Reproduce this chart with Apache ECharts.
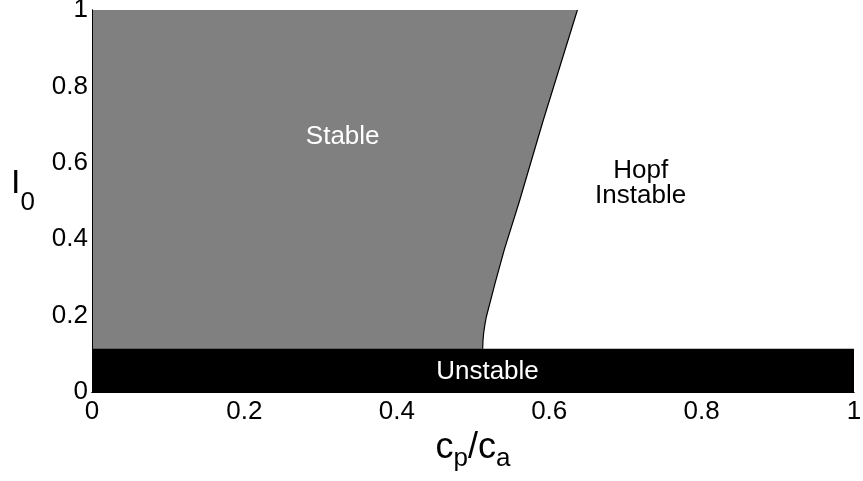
<!DOCTYPE html>
<html>
<head>
<meta charset="utf-8">
<script src="https://cdn.jsdelivr.net/npm/echarts@6/dist/echarts.min.js"></script>
<style>
  html, body { margin: 0; padding: 0; background: #fff; }
  #chart { width: 863px; height: 481px; }
</style>
</head>
<body>
<div id="chart"></div>
<script>
// Stability diagram in the (c_p/c_a, I_0) plane
const axisTicks = [0, 0.2, 0.4, 0.6, 0.8, 1];

// Hopf boundary: ratio c_p/c_a as I_0 decreases from 1 to the unstable band
const boundaryC = [0.637, 0.592, 0.561, 0.541, 0.529, 0.5175, 0.5155, 0.5140, 0.5131, 0.5127];
const boundaryI = [1.000, 0.710, 0.500, 0.372, 0.285, 0.197, 0.175, 0.155, 0.135, 0.113];

// Unstable band for small I_0
const unstableTop = 0.113;
const stableBottom = 0.110;

// Region annotations
const regionNames = ['Stable', 'Hopf\nInstable', 'Unstable'];
const regionC = [0.329, 0.720, 0.519];
const regionI = [0.668, 0.546, 0.053];
const regionColors = ['#ffffff', '#000000', '#ffffff'];

const FONT = 'Liberation Sans, Arial, Helvetica, sans-serif';

const chart = echarts.init(document.getElementById('chart'), null, { renderer: 'canvas' });

function polygonItem(pointsData, fill) {
  return function (params, api) {
    const pts = pointsData.map(p => api.coord(p));
    return {
      type: 'polygon',
      shape: { points: pts },
      style: { fill: fill, stroke: null },
      silent: true
    };
  };
}

// Stable region: left edge, top edge, boundary curve, bottom edge
const stablePoly = [[0, stableBottom], [0, 1]];
for (let i = 0; i < boundaryC.length; i++) stablePoly.push([boundaryC[i], boundaryI[i]]);
stablePoly.push([boundaryC[boundaryC.length - 1], stableBottom]);

const unstablePoly = [[0, 0], [0, unstableTop], [1, unstableTop], [1, 0]];

const boundaryLine = boundaryC.map((c, i) => [c, boundaryI[i]]);

const labelData = regionNames.map((n, i) => ({
  value: [regionC[i], regionI[i]],
  name: n,
  label: { color: regionColors[i] }
}));

const tickMin = axisTicks[0];
const tickMax = axisTicks[axisTicks.length - 1];
const tickStep = axisTicks[1] - axisTicks[0];

const option = {
  animation: false,
  backgroundColor: '#ffffff',
  grid: { left: 92, right: 9, top: 10, bottom: 89, show: false, containLabel: false, outerBoundsMode: 'none' },
  xAxis: [{
    type: 'value', min: tickMin, max: tickMax, interval: tickStep,
    position: 'bottom',
    axisLine: { show: true, lineStyle: { color: '#000', width: 1 } },
    axisTick: { show: false },
    splitLine: { show: false },
    axisLabel: { color: '#000', fontSize: 26, fontFamily: FONT, margin: 7 },
    name: '{m|c}{s|p}{m|/c}{s|a}',
    nameLocation: 'middle',
    nameGap: 29,
    nameTextStyle: {
      rich: {
        m: { fontSize: 36, fontFamily: FONT, color: '#000', lineHeight: 40 },
        s: { fontSize: 26, fontFamily: FONT, color: '#000', padding: [22, 0, 0, 0] }
      }
    },
    z: 10
  }, {
    type: 'value', min: tickMin, max: tickMax, position: 'top',
    axisLine: { show: true, lineStyle: { color: '#000', width: 1 } },
    axisTick: { show: false }, axisLabel: { show: false }, splitLine: { show: false },
    z: 10
  }],
  yAxis: [{
    type: 'value', min: tickMin, max: tickMax, interval: tickStep,
    position: 'left',
    axisLine: { show: true, lineStyle: { color: '#000', width: 1 } },
    axisTick: { show: false },
    splitLine: { show: false },
    axisLabel: { color: '#000', fontSize: 26, fontFamily: FONT, margin: 4 },
    name: '{m|I}{s|0}',
    nameLocation: 'middle',
    nameRotate: 0,
    nameGap: 57,
    nameTextStyle: {
      padding: [0, 0, 34, 0],
      rich: {
        m: { fontSize: 34, fontFamily: FONT, color: '#000', lineHeight: 38 },
        s: { fontSize: 26, fontFamily: FONT, color: '#000', padding: [37, 0, 0, 0] }
      }
    },
    z: 10
  }, {
    type: 'value', min: tickMin, max: tickMax, position: 'right',
    axisLine: { show: true, lineStyle: { color: '#000', width: 1 } },
    axisTick: { show: false }, axisLabel: { show: false }, splitLine: { show: false },
    z: 10
  }],
  series: [
    {
      name: 'stable',
      type: 'custom',
      coordinateSystem: 'cartesian2d',
      data: [0],
      renderItem: polygonItem(stablePoly, '#808080'),
      z: 1
    },
    {
      name: 'unstable',
      type: 'custom',
      coordinateSystem: 'cartesian2d',
      data: [0],
      renderItem: polygonItem(unstablePoly, '#000000'),
      z: 2
    },
    {
      name: 'boundary',
      type: 'line',
      data: boundaryLine,
      showSymbol: false,
      smooth: false,
      lineStyle: { color: '#000', width: 1.2 },
      z: 3
    },
    {
      name: 'regions',
      type: 'scatter',
      data: labelData,
      symbolSize: 0,
      itemStyle: { opacity: 1 },
      label: {
        show: true,
        position: 'inside',
        formatter: p => p.name,
        fontSize: 26,
        lineHeight: 25,
        fontFamily: FONT,
        align: 'center',
        verticalAlign: 'middle',
        opacity: 1,
        textBorderWidth: 0
      },
      z: 5
    }
  ]
};

chart.setOption(option);
</script>
</body>
</html>
